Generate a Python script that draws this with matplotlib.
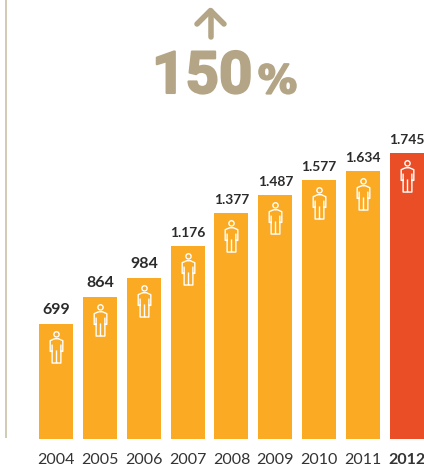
import matplotlib

matplotlib.use("Agg")
import matplotlib.patheffects as pe
import matplotlib.pyplot as plt
from matplotlib.lines import Line2D
from matplotlib.patches import Circle
from matplotlib.path import Path
from matplotlib.transforms import offset_copy

years = ["2004", "2005", "2006", "2007", "2008", "2009", "2010", "2011", "2012"]
people = [699, 864, 984, 1176, 1377, 1487, 1577, 1634, 1745]
value_labels = ["699", "864", "984", "1.176", "1.377", "1.487", "1.577", "1.634", "1.745"]

W, H = 424, 467
ORANGE = "#faaa23"
RED = "#e94e27"
TAN = "#b3a585"
PX = 72 / 100  # pixel -> point


def person_marker():
    """Контур человечка, центр в (0, 0), единицы - пиксели."""
    body = [(-2, 9), (2, 9), (6.5, 7), (6.5, -4), (4.5, -4), (4.5, -16), (-4.5, -16),
            (-4.5, -4), (-6.5, -4), (-6.5, 7), (-2, 9)]
    legs = [(-4.5, 3), (-4.5, -4), (0, -16), (0, -3), (4.5, 3), (4.5, -4)]
    verts = list(body) + legs
    codes = [Path.MOVETO] + [Path.LINETO] * (len(body) - 1)
    codes += [Path.MOVETO, Path.LINETO, Path.MOVETO, Path.LINETO, Path.MOVETO, Path.LINETO]
    c = Circle((0, 13.5), 2.7)
    head = c.get_path().transformed(c.get_patch_transform())
    verts += [tuple(v) for v in head.vertices]
    codes += list(head.codes)
    return Path(verts, codes)


fig = plt.figure(figsize=(W / 100, H / 100), dpi=100)
ax = fig.add_axes([0, 28 / H, 1, 1 - 28 / H])
ax.set_xlim(-56.3 / 43.8, (W - 56.3) / 43.8)
ax.set_ylim(0, (H - 28) / 0.164)
ax.patch.set_alpha(0)

x = list(range(len(years)))
colors = [ORANGE] * (len(years) - 1) + [RED]
ax.bar(x, people, width=34 / 43.8, color=colors, linewidth=0)

for i, (v, lab) in enumerate(zip(people, value_labels)):
    # подписи с точкой в оригинале уже за счёт узких цифр
    ax.annotate(lab, (i, v), xytext=(0, 7 * PX), textcoords="offset points", ha="center", va="bottom",
                fontsize=11.5 if len(lab) == 3 else 10, fontweight="bold", family="Lato", color="#2b2b2b")

# человечки внутри столбцов
icon_tr = offset_copy(ax.transData, fig=fig, y=-23 * PX, units="points")
ax.plot(x, people, ls="none", marker=person_marker(), ms=31.5 * PX, mfc="none", mec="white",
        mew=1.0, transform=icon_tr, clip_on=False)

ax.set_xticks(x, years, family="Lato", fontsize=11.5, color="#333333")
ax.tick_params(axis="x", length=0, pad=10)
ax.get_xticklabels()[-1].set_fontweight("bold")
ax.set_yticks([])
for s in ax.spines.values():
    s.set_visible(False)


def fx(px):
    return px / W


def fy(py):
    return 1 - py / H


# вертикальная линия слева
fig.add_artist(Line2D([fx(6.3), fx(6.3)], [fy(0), fy(437)], color="#d2ccb6", lw=2 * PX))

# стрелка вверх
arrow_kw = dict(color=TAN, lw=5.5 * PX, solid_capstyle="round", solid_joinstyle="round")
fig.add_artist(Line2D([fx(210.5), fx(210.5)], [fy(37), fy(11)], **arrow_kw))
fig.add_artist(Line2D([fx(197), fx(210.5), fx(224)], [fy(24), fy(10.5), fy(24)], **arrow_kw))

fig.text(fx(152), fy(93), "150", family="Roboto", fontweight="bold", fontsize=42, color=TAN, ha="left", va="baseline",
         path_effects=[pe.withStroke(linewidth=1.5, foreground=TAN)])
fig.text(fx(258), fy(93), "%", family="DejaVu Sans", fontweight="bold", fontsize=28, color=TAN, ha="left", va="baseline",
         path_effects=[pe.withStroke(linewidth=1.5, foreground=TAN)])

fig.savefig("out.png", dpi=100)
